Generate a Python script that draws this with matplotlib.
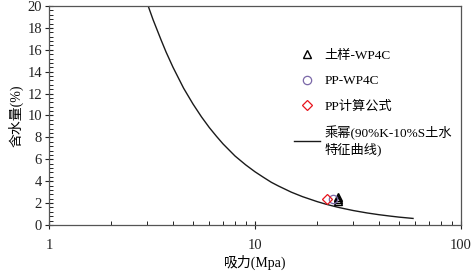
import matplotlib
matplotlib.use('Agg')
import matplotlib.pyplot as plt
from matplotlib.ticker import MultipleLocator, LogLocator, NullFormatter, FixedLocator

plt.rcParams['font.family'] = ['Liberation Serif', 'Noto Sans CJK SC']

# 土样-WP4C
tu_x = [25.2, 25.3, 25.4]
tu_y = [2.2, 2.4, 2.6]
# PP-WP4C
pp_x = [24.0]
pp_y = [2.35]
# PP计算公式
js_x = [22.3]
js_y = [2.4]
# 乘幂趋势线
fit_x = [3.03, 3.2, 3.5, 3.7, 4, 4.5, 5, 5.5, 6, 6.5, 7, 8, 9, 10, 11, 12, 13,
         15, 17, 20, 22, 25, 27, 30, 35, 40, 45, 50, 58.5]
fit_y = [20.0, 18.75, 16.9, 15.8, 14.4, 12.5, 11.05, 9.87, 8.9, 8.1, 7.4, 6.3, 5.5,
         4.86, 4.35, 3.9, 3.56, 3.0, 2.59, 2.14, 1.91, 1.64, 1.50, 1.32, 1.10, 0.94,
         0.82, 0.72, 0.6]

fig = plt.figure(figsize=(4.72, 2.78), dpi=100)
ax = fig.add_axes([49/472, 1-225/278, 412/472, 219/278])

ax.plot(fit_x, fit_y, '-', color='#1a1a1a', lw=1.0,
        label='乘幂(90%K-10%S土水\n特征曲线)', zorder=2)
ax.plot(tu_x, tu_y, '^', mfc='none', mec='black', ms=6, mew=1.0,
        label='土样-WP4C', zorder=3)
ax.plot(pp_x, pp_y, 'o', mfc='none', mec='#7b68a8', ms=6, mew=0.9,
        label='PP-WP4C', zorder=3)
ax.plot(js_x, js_y, 'D', mfc='none', mec='#e8141c', ms=5, mew=0.9,
        label='PP计算公式', zorder=3)

ax.set_xscale('log')
ax.set_xlim(1, 100)
ax.set_ylim(0, 20)
ax.yaxis.set_major_locator(MultipleLocator(2))
ax.yaxis.set_minor_locator(MultipleLocator(0.4))
ax.xaxis.set_major_locator(FixedLocator([1, 10, 100]))
ax.xaxis.set_minor_locator(LogLocator(base=10, subs=range(2, 10)))
ax.xaxis.set_minor_formatter(NullFormatter())
ax.set_xticklabels(['1', '10', '100'])

ax.tick_params(axis='both', which='major', direction='inout', length=6, width=0.8,
               labelsize=10.5, colors='#222222')
ax.tick_params(axis='both', which='minor', direction='in', length=3, width=0.6)
ax.tick_params(axis='x', which='major', pad=7)
ax.tick_params(axis='y', which='major', pad=2)
ax.tick_params(top=False, right=False, which='both')
for sp in ax.spines.values():
    sp.set_color('#555555')
    sp.set_linewidth(0.9)

ax.set_xlabel('吸力(Mpa)', fontsize=10, labelpad=2)
ax.set_ylabel('含水量(%)', fontsize=10, labelpad=3)

h, l = ax.get_legend_handles_labels()
order = [1, 2, 3, 0]
ax.legend([h[i] for i in order], [l[i] for i in order], loc='upper left',
          bbox_to_anchor=(0.565, 0.855), frameon=False, fontsize=9.5,
          labelspacing=1.0, handlelength=2.0, handletextpad=0.35)

fig.savefig('out.png', dpi=100)
